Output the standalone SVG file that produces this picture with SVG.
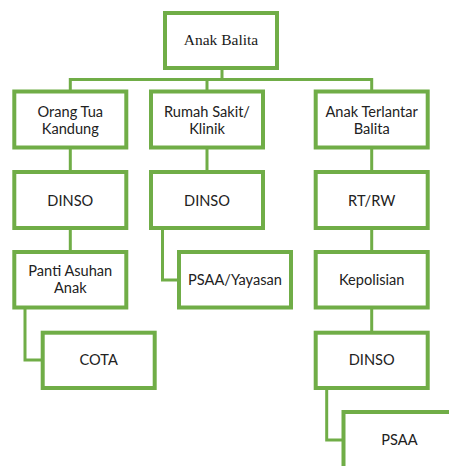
<svg xmlns="http://www.w3.org/2000/svg" width="449" height="466" viewBox="0 0 449 466">
<style>
.box{fill:#fff;stroke:#70AD47;stroke-width:4}
.ln{fill:none;stroke:#70AD47;stroke-width:3}
.t{font-family:Lato,"Liberation Sans",sans-serif;font-size:14.6px;fill:#222;text-anchor:middle}
.s{font-family:"Liberation Serif","Times New Roman",serif;font-size:15.5px;fill:#1a1a1a;text-anchor:middle}
</style>
<rect width="449" height="466" fill="#fff"/>
<g id="connectors">
<path class="ln" d="M222 68 V79.5 M70.3 91 V79.5 H371.7 V91 M207 79.5 V91"/>
<path class="ln" d="M70.3 148 V171 M207 148 V171 M371.7 148 V171"/>
<path class="ln" d="M70.3 229 V251 M371.7 229 V251"/>
<path class="ln" d="M162.5 229 V280 H178"/>
<path class="ln" d="M25 308 V360 H42"/>
<path class="ln" d="M371.7 308 V332"/>
<path class="ln" d="M326.7 389 V440 H343"/>
</g>
<g id="n-anak-balita"><rect class="box" x="165" y="13" width="112" height="55"/><text class="s" x="221" y="45">Anak Balita</text></g>
<g id="n-orang-tua"><rect class="box" x="14.3" y="91.5" width="112" height="56"/><text class="t" x="70.3" y="116.5">Orang Tua</text><text class="t" x="70.3" y="133.5">Kandung</text></g>
<g id="n-rumah-sakit"><rect class="box" x="151" y="91.5" width="112" height="56"/><text class="t" x="207" y="116.5">Rumah Sakit/</text><text class="t" x="207" y="133.5">Klinik</text></g>
<g id="n-anak-terlantar"><rect class="box" x="315.7" y="91.5" width="112" height="56"/><text class="t" x="371.7" y="116.5">Anak Terlantar</text><text class="t" x="371.7" y="133.5">Balita</text></g>
<g id="n-dinso-1"><rect class="box" x="14.3" y="172" width="112" height="56"/><text class="t" x="70.3" y="206">DINSO</text></g>
<g id="n-dinso-2"><rect class="box" x="151" y="172" width="112" height="56"/><text class="t" x="207" y="206">DINSO</text></g>
<g id="n-rtrw"><rect class="box" x="315.7" y="172" width="112" height="56"/><text class="t" x="371.7" y="206">RT/RW</text></g>
<g id="n-panti"><rect class="box" x="14.3" y="252" width="112" height="55.5"/><text class="t" x="70.3" y="276">Panti Asuhan</text><text class="t" x="70.3" y="293">Anak</text></g>
<g id="n-psaa-yayasan"><rect class="box" x="179" y="252" width="112" height="55.5"/><text class="t" x="235" y="285">PSAA/Yayasan</text></g>
<g id="n-kepolisian"><rect class="box" x="315.7" y="252" width="112" height="55.5"/><text class="t" x="371.7" y="285">Kepolisian</text></g>
<g id="n-cota"><rect class="box" x="42.7" y="332.7" width="112" height="55.3"/><text class="t" x="98.7" y="365">COTA</text></g>
<g id="n-dinso-3"><rect class="box" x="315.7" y="332.7" width="112" height="55.3"/><text class="t" x="371.7" y="365">DINSO</text></g>
<g id="n-psaa"><rect class="box" x="343.5" y="412" width="112" height="60"/><text class="t" x="399.5" y="445">PSAA</text></g>
</svg>
